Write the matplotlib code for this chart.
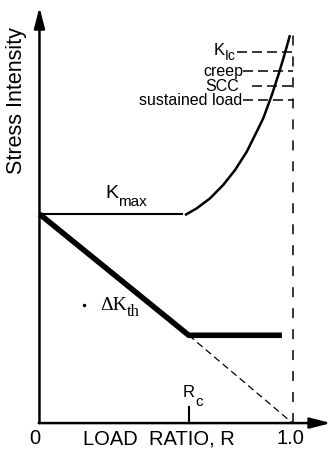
import matplotlib
matplotlib.use("Agg")
import matplotlib.pyplot as plt

plt.rcParams['font.family'] = ['Liberation Sans', 'DejaVu Sans']
plt.rcParams['lines.scale_dashes'] = False

# Schematic: threshold stress intensity versus load ratio
R_c = 0.59                 # critical load ratio
K_max_plateau = 1.0        # K_max level below R_c (normalised)
dK_plateau = 0.42          # Delta K_th level above R_c
dK_end_R = 0.958           # end of the Delta K_th plateau

# K_max rising branch above R_c
kmax_R = [0.575, 0.621, 0.674, 0.726, 0.773, 0.819, 0.865, 0.885, 0.918,
          0.944, 0.964, 0.977, 0.990]
kmax_K = [0.995, 1.027, 1.075, 1.139, 1.211, 1.298, 1.410, 1.460, 1.569,
          1.665, 1.745, 1.800, 1.856]

# static failure modes (level, label, left end of the dashed line)
mode_labels = ['creep', 'SCC', 'sustained load']
mode_levels = [1.684, 1.612, 1.545]
mode_line_start = [0.804, 0.84, 0.804]
mode_label_right = [0.804, 0.789, 0.800]
kic_level = 1.775
kic_line_start = 0.78

fig = plt.figure(figsize=(3.32, 4.49), dpi=100)
ax = fig.add_axes([0, 0, 1, 1])
ax.set_xlim(-0.156, 1.156)
ax.set_ylim(-0.124, 2.024)
ax.axis('off')
renderer = fig.canvas.get_renderer()


def subscripted(x, y, main, sub, size, sub_size, drop, ha='left', family=None):
    """Draw main text with a lowered subscript; x, y is the main baseline."""
    kw = {} if family is None else {'family': family}
    t = ax.text(x, y, main, ha='left', va='baseline', fontsize=size, **kw)
    s = ax.annotate(sub, xy=(0, 0), xytext=(0, 0), textcoords='offset points',
                    fontsize=sub_size, va='baseline', ha='left', **kw)
    fig.canvas.draw()
    wm = t.get_window_extent(renderer).width
    ws = s.get_window_extent(renderer).width
    px, py = ax.transData.transform((x, y))
    if ha == 'right':
        px -= wm + ws
        t.set_position(ax.transData.inverted().transform((px, py)))
    s.xy = tuple(ax.transData.inverted().transform((px + wm, py)))
    s.set_position((0, -drop * 72 / fig.dpi))


# axes with arrow heads
arrow = dict(arrowstyle='-|>,head_length=1.25,head_width=0.32', color='black',
             lw=1.8, shrinkA=0, shrinkB=0, mutation_scale=10)
ax.annotate('', xy=(0, 1.99), xytext=(0, 0), arrowprops=arrow)
ax.annotate('', xy=(1.152, 0), xytext=(-0.003, 0), arrowprops=arrow)

# K_max curve
ax.plot([0, 0.567], [K_max_plateau, K_max_plateau], color='black', lw=1.5,
        solid_capstyle='butt')
ax.plot(kmax_R, kmax_K, color='black', lw=1.8, solid_capstyle='butt',
        solid_joinstyle='round')

# Delta K_th curve
ax.plot([0, R_c, dK_end_R], [K_max_plateau, dK_plateau, dK_plateau],
        color='black', lw=4.0, solid_capstyle='butt', solid_joinstyle='miter')

# extrapolation of Delta K_th to R = 1
ax.plot([R_c, 1.0], [dK_plateau, 0.0], color='black', lw=0.9,
        dashes=(5, 3))

# R = 1 line
ax.plot([1.0, 1.0], [0.0, 1.866], color='black', lw=1.1, dashes=(7.2, 7.9))

# static failure levels
ax.plot([kic_line_start, 1.0], [kic_level, kic_level], color='black', lw=1.1,
        dashes=(7.2, 3.6))
subscripted(0.777, 1.76, 'K', 'Ic', 12, 10, 5, ha='right')
for lab, lev, x0, xr in zip(mode_labels, mode_levels, mode_line_start, mode_label_right):
    ax.plot([x0, 1.0], [lev, lev], color='black', lw=1.1, dashes=(7.2, 3.6))
    ax.text(xr, lev, lab, ha='right', va='center', fontsize=11.5)

# R_c tick
ax.plot([R_c, R_c], [0, 0.075], color='black', lw=1.5)
subscripted(0.567, 0.124, 'R', 'c', 12, 11, 9)

# curve labels
subscripted(0.259, 1.077, 'K', 'max', 14, 11, 8)
subscripted(0.239, 0.541, '\u0394K', 'th', 14, 12, 6, family='Liberation Serif')
ax.plot([0.176], [0.565], marker='o', ms=1.5, color='black')

# axis labels
ax.text(-0.089, 1.541, 'Stress Intensity', rotation=90, ha='center', va='center',
        fontsize=15.5)
ax.text(-0.018, -0.076, '0', ha='center', va='center', fontsize=14.5)
ax.text(0.470, -0.076, 'LOAD  RATIO, R', ha='center', va='center', fontsize=14.5)
ax.text(0.990, -0.076, '1.0', ha='center', va='center', fontsize=14.5)

fig.savefig('out.png', dpi=100)
